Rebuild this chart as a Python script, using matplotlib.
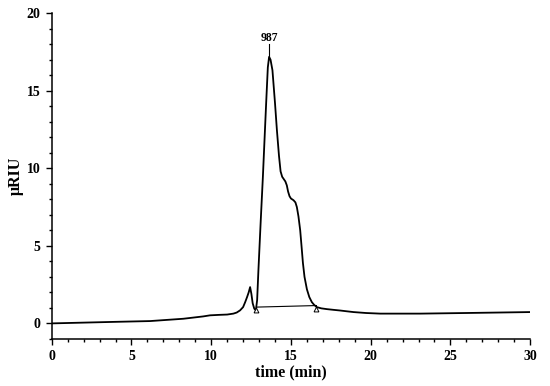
import matplotlib
matplotlib.use("Agg")
import matplotlib.pyplot as plt
from matplotlib.ticker import MultipleLocator

plt.rcParams["font.family"] = ["Liberation Serif", "DejaVu Serif"]
plt.rcParams["font.weight"] = "bold"

# chromatogram trace
time_min = [0.0, 2.0, 4.0, 6.17, 8.26, 9.5, 9.93, 10.5, 11.0, 11.39, 11.6, 11.81,
            12.0, 12.13, 12.25, 12.35, 12.44, 12.52, 12.6, 12.7, 12.8, 12.88,
            12.96, 13.1, 13.24, 13.35, 13.45, 13.55, 13.63, 13.72, 13.84, 14.0,
            14.12, 14.25, 14.35, 14.45, 14.55, 14.65, 14.74, 14.82, 14.91, 15.0,
            15.16, 15.28, 15.37, 15.47, 15.58, 15.67, 15.75, 15.85, 16.0, 16.15,
            16.31, 16.45, 16.62, 16.9, 17.25, 17.7, 18.09, 18.5, 18.92, 19.7,
            20.6, 23.1, 26.0, 30.0]
signal = [0.0, 0.05, 0.1, 0.15, 0.30, 0.45, 0.52, 0.55, 0.57, 0.63, 0.7, 0.84,
          1.05, 1.37, 1.7, 2.0, 2.34, 1.9, 1.3, 0.95, 0.84, 1.5,
          3.42, 6.5, 9.44, 12.0, 14.3, 16.5, 17.18, 17.0, 16.32, 14.2,
          12.45, 10.8, 9.8, 9.45, 9.3, 9.15, 8.9, 8.5, 8.2, 8.05,
          7.94, 7.8, 7.5, 6.9, 6.0, 4.9, 3.9, 3.0, 2.2, 1.7,
          1.37, 1.2, 1.05, 0.97, 0.92, 0.87, 0.83, 0.78, 0.73, 0.67,
          0.63, 0.63, 0.67, 0.73]

# integration baseline and peak label
base_t = [12.84, 16.6]
base_y = [1.05, 1.15]
peak_t = 13.63
peak_y = 17.18
peak_label = "987"

fig = plt.figure(figsize=(5.5, 3.86), dpi=100)
ax = fig.add_axes([0.094, 0.122, 0.870, 0.844])

ax.plot(time_min, signal, color="black", linewidth=1.3)
ax.plot(base_t, base_y, color="black", linewidth=0.8)
ax.plot(base_t, [v - 0.2 for v in base_y], linestyle="none", marker="^",
        markersize=3.5, markerfacecolor="white", markeredgecolor="black",
        markeredgewidth=0.7)
ax.plot([peak_t, peak_t], [peak_y, peak_y + 0.8], color="black", linewidth=0.8)
ax.text(peak_t, peak_y + 0.85, peak_label, ha="center", va="bottom",
        fontsize=8.5, fontweight="bold")

ax.set_xlim(0, 30)
ax.set_ylim(-1, 20)
ax.xaxis.set_major_locator(MultipleLocator(5))
ax.xaxis.set_minor_locator(MultipleLocator(1))
ax.yaxis.set_major_locator(MultipleLocator(5))
ax.yaxis.set_minor_locator(MultipleLocator(1))
ax.tick_params(which="major", direction="out", length=4.5, width=1.0, labelsize=10)
ax.tick_params(which="minor", direction="out", length=2.3, width=1.0)
ax.spines[["top", "right"]].set_visible(False)
for side in ("left", "bottom"):
    ax.spines[side].set_linewidth(1.1)

ax.set_xlabel("time (min)", fontsize=11.5, fontweight="bold", labelpad=1)
ax.set_ylabel("\u03bcRIU", fontsize=11.5, fontweight="bold", labelpad=2)

fig.savefig("out.png", dpi=100, facecolor="white")
